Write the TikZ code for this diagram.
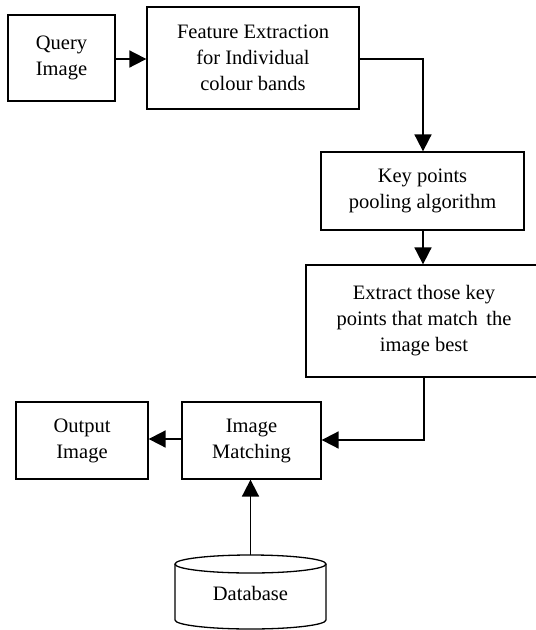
\documentclass[tikz,border=0pt]{standalone}
\usepackage{fontspec}
\setmainfont{Liberation Serif}
\usetikzlibrary{arrows.meta}
\begin{document}
\begin{tikzpicture}[x=1pt,y=-1pt,
  box/.style={draw, line width=1.3pt, align=center, inner sep=0pt,
    font=\fontsize{20.5}{26}\selectfont},
  flow/.style={line width=1.8pt, -{Triangle[length=17pt,width=17pt]}},
]
\useasboundingbox (0,0) rectangle (536,630);
\clip (0,0) rectangle (536,630);

% process boxes
\node[box, minimum width=107pt, minimum height=86pt] (query) at (61.5,58) {Query\\Image};
\node[box, minimum width=212pt, minimum height=102pt] (feat) at (253,58) {Feature Extraction\\for Individual\\colour bands};
\node[box, minimum width=203pt, minimum height=78pt] (pool) at (422.5,191) {Key points\\pooling algorithm};
\node[box, minimum width=236pt, minimum height=112pt] (best) at (424,321) {Extract those key\\points that match\ \,the\\image best};
\node[box, minimum width=139pt, minimum height=77pt] (match) at (251.5,440.5) {Image\\Matching};
\node[box, minimum width=132pt, minimum height=77pt] (out) at (82,440.5) {Output\\Image};

% database drum
\draw[line width=1.3pt] (175,564) -- (175,620) arc[start angle=180, end angle=360, x radius=75.5pt, y radius=9pt] -- (326,564);
\draw[line width=1.3pt] (250.5,564) ellipse[x radius=75.5pt, y radius=9pt];
\node[font=\fontsize{20.5}{26}\selectfont] (db) at (250.5,593) {Database};
\coordinate (dbtop) at (250.5,555);

% connectors
\draw[flow] (query.east |- 0,59) -- (feat.west |- 0,59);
\draw[flow] (feat.east |- 0,59) -| (pool.north -| 423,0);
\draw[flow] (pool.south -| 423,0) -- (best.north -| 423,0);
\draw[flow] (best.south -| 424,0) |- (match.east |- 0,440);
\draw[flow] (match.west |- 0,439) -- (out.east |- 0,439);
\draw[flow] (dbtop) -- (match.south -| dbtop);
\end{tikzpicture}
\end{document}
